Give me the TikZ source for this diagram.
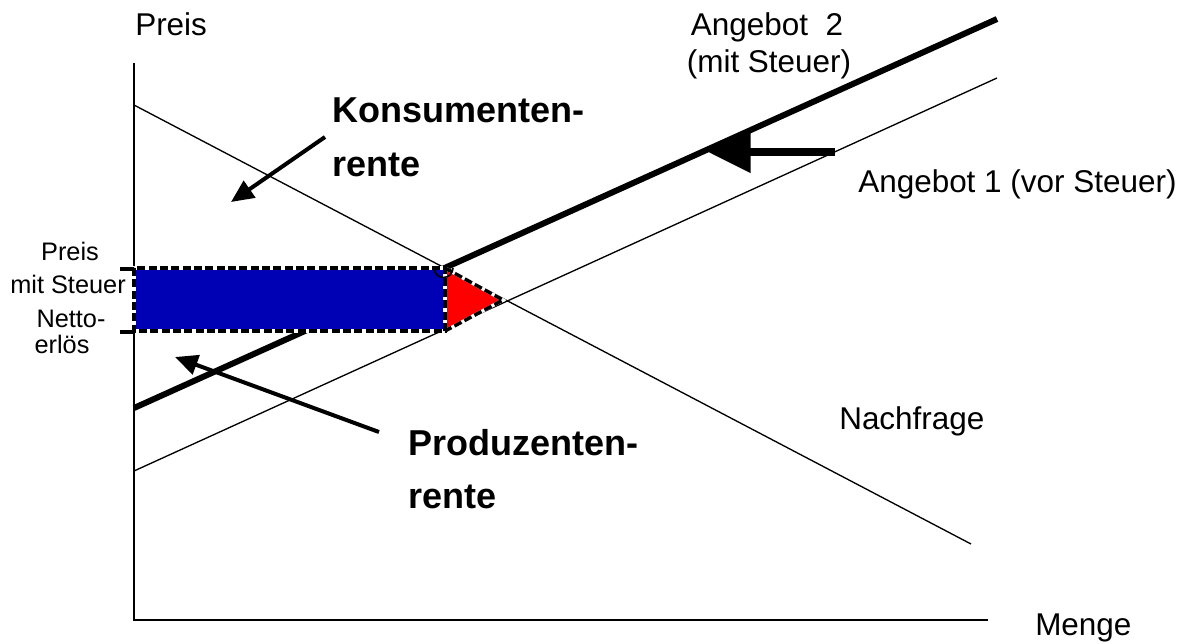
\documentclass[tikz,border=0pt]{standalone}
\usepackage{fontspec}
\setmainfont{Liberation Sans}
\usetikzlibrary{arrows.meta}
\definecolor{rectblue}{RGB}{0,0,180}
\definecolor{trired}{RGB}{255,0,0}
\tikzset{
  lbl/.style={inner sep=0pt, font=\fontsize{23.6pt}{28pt}\selectfont},
  blbl/.style={inner sep=0pt, font=\fontsize{27pt}{32pt}\selectfont\bfseries},
  slbl/.style={inner sep=0pt, font=\fontsize{19pt}{23pt}\selectfont},
  axisline/.style={line width=1.1pt},
  thinline/.style={line width=1pt},
  thickline/.style={line width=4.5pt},
  surplusarrow/.style={line width=3pt, -{Triangle[length=17pt,width=15pt]}},
  bigarrow/.style={line width=6pt, -{Triangle[length=32pt,width=30pt]}},
  areaunder/.style={line width=2.6pt, white},
  areaborder/.style={line width=2.6pt, dash pattern=on 6pt off 2.5pt},
  tick/.style={line width=2.4pt}
}
\begin{document}
\begin{tikzpicture}[x=0.75pt,y=-0.75pt]
\useasboundingbox (0,0) rectangle (1194,643);
% coordinates
\coordinate (O) at (134,620);
\coordinate (Ytop) at (134,63);
\coordinate (Xend) at (988,620);
\coordinate (D1) at (134,105);
\coordinate (D2) at (971,544);
\coordinate (S1a) at (134,471);
\coordinate (S1b) at (997,78);
\coordinate (S2a) at (134,408);
\coordinate (S2b) at (997,19);
\coordinate (RTL) at (134,268);
\coordinate (RBR) at (445,331);
\coordinate (TA) at (445,268);
\coordinate (TB) at (503,300);
\coordinate (TC) at (445,331);
% axes
\draw[axisline] (Ytop) -- (O) -- (Xend);
% curves
\draw[thinline] (D1) -- (D2);
\draw[thinline] (S1a) -- (S1b);
\draw[thickline] (S2a) -- (S2b);
% areas
\fill[rectblue] (RTL) rectangle (RBR);
\fill[trired] (TA) -- (TB) -- (TC) -- cycle;
\draw[areaunder] (RTL) rectangle (RBR);
\draw[areaunder] (TA) -- (TB) -- (TC);
\draw[areaborder] (RTL) rectangle (RBR);
\draw[areaborder] (TA) -- (TB) -- (TC);
% small hop
\draw[line width=1.2pt] (434,268) arc[start angle=180,end angle=0,radius=9.5];
% ticks
\coordinate (T1a) at (120,269); \coordinate (T1b) at (134,269);
\coordinate (T2a) at (120,332); \coordinate (T2b) at (134,332);
\draw[tick] (T1a) -- (T1b);
\draw[tick] (T2a) -- (T2b);
% labels
\node[lbl, anchor=base west] (preis) at (135,35) {Preis};
\node[lbl, anchor=base west] (menge) at (1035,635) {Menge};
\node[lbl, anchor=base] (ang2a) at (767,35) {Angebot\ \ 2};
\node[lbl, anchor=base] (ang2b) at (769,72) {(mit Steuer)};
\node[lbl, anchor=base west] (ang1) at (858,192) {Angebot 1 (vor Steuer)};
\node[lbl, anchor=base west] (nachfrage) at (839,429) {Nachfrage};
\node[blbl, anchor=base west] (kons1) at (332,122) {Konsumenten-};
\node[blbl, anchor=base west] (kons2) at (332,176) {rente};
\node[blbl, anchor=base west] (prod1) at (408,455) {Produzenten-};
\node[blbl, anchor=base west] (prod2) at (408,508) {rente};
\node[slbl, anchor=base] (pms1) at (70,260) {Preis};
\node[slbl, anchor=base] (pms2) at (68,293) {mit Steuer};
\node[slbl, anchor=base] (ne1) at (71,327) {Netto-};
\node[slbl, anchor=base] (ne2) at (62,353) {erlös};
% arrows
\coordinate (KA) at (325,137); \coordinate (KB) at (231,202);
\draw[surplusarrow] (KA) -- (KB);
\coordinate (PA) at (379,432); \coordinate (PB) at (175,357);
\draw[surplusarrow] (PA) -- (PB);
\coordinate (BA) at (835,152); \coordinate (BB) at (708,152);
\draw[bigarrow] (BA) -- (BB);
\end{tikzpicture}
\end{document}
